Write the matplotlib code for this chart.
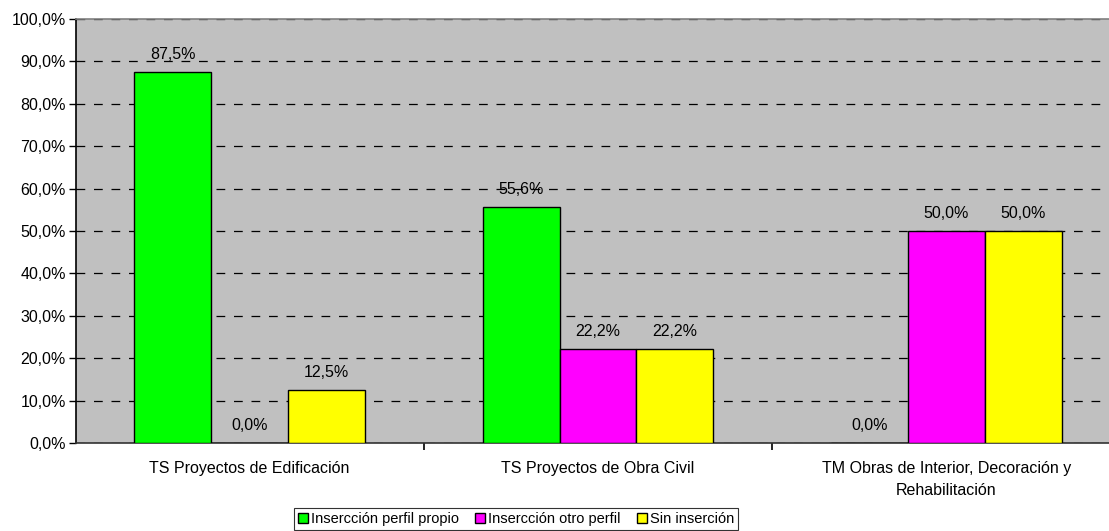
import matplotlib
matplotlib.use("Agg")
import matplotlib.pyplot as plt
import numpy as np
from matplotlib.ticker import FixedLocator, FuncFormatter

plt.rcParams["font.family"] = ["Liberation Sans", "DejaVu Sans"]

categories = [
    "TS Proyectos de Edificación",
    "TS Proyectos de Obra Civil",
    "TM Obras de Interior, Decoración y\nRehabilitación",
]
series_names = ["Insercción perfil propio", "Insercción otro perfil", "Sin inserción"]
propio = [87.5, 55.6, 0.0]
otro = [0.0, 22.2, 50.0]
sin = [12.5, 22.2, 50.0]
colors = ["#00FF00", "#FF00FF", "#FFFF00"]


def pct(v):
    return f"{v:.1f}%".replace(".", ",")


fig = plt.figure(figsize=(11.09, 5.31), dpi=100)
W, H = 1109, 531
left, right, top, bottom = 75.5, 1120.5, 19, 443
ax = fig.add_axes([left / W, 1 - bottom / H, (right - left) / W, (bottom - top) / H])
ax.set_facecolor("#C0C0C0")

x = np.arange(len(categories))
bw = 0.221
for i, (vals, col, name) in enumerate(zip([propio, otro, sin], colors, series_names)):
    pos = x + (i - 1) * bw
    ax.bar(pos, vals, width=bw, color=col, edgecolor="black", linewidth=1.0,
           label=name, zorder=3)
    for px, v in zip(pos, vals):
        ax.text(px, v + 4.2, pct(v), ha="center", va="center",
                fontsize=11.5, color="black", zorder=4)

ax.set_xlim(-0.5, 2.5)
ax.set_ylim(0, 100)
ax.set_yticks(np.arange(0, 101, 10))
ax.yaxis.set_major_formatter(FuncFormatter(lambda v, p: pct(v)))
ax.tick_params(axis="y", length=5, width=1, labelsize=11.5, pad=2)
ax.grid(axis="y", color="black", linestyle=(0, (7, 7)), linewidth=0.9, zorder=1)
ax.set_xticks(x)
ax.set_xticklabels(categories, fontsize=11.5, linespacing=1.55)
ax.tick_params(axis="x", which="major", length=0, pad=13)
ax.xaxis.set_minor_locator(FixedLocator([0.5, 1.5]))
ax.tick_params(axis="x", which="minor", length=5, width=1.2, color="black")

ax.spines["left"].set_color("black")
ax.spines["bottom"].set_color("#333333")
ax.spines["top"].set_color("#808080")
ax.spines["right"].set_visible(False)
for s in ax.spines.values():
    s.set_linewidth(1.2)
ax.set_axisbelow(True)

leg = fig.legend(loc="center", bbox_to_anchor=(516 / W, 1 - 519 / H), ncol=3,
                 fontsize=10.5, frameon=True, fancybox=False, edgecolor="black",
                 handlelength=0.7, handleheight=0.7, handletextpad=0.2,
                 columnspacing=1.1, borderpad=0.25, borderaxespad=0)
leg.get_frame().set_linewidth(0.8)

fig.savefig("out.png", dpi=100)
